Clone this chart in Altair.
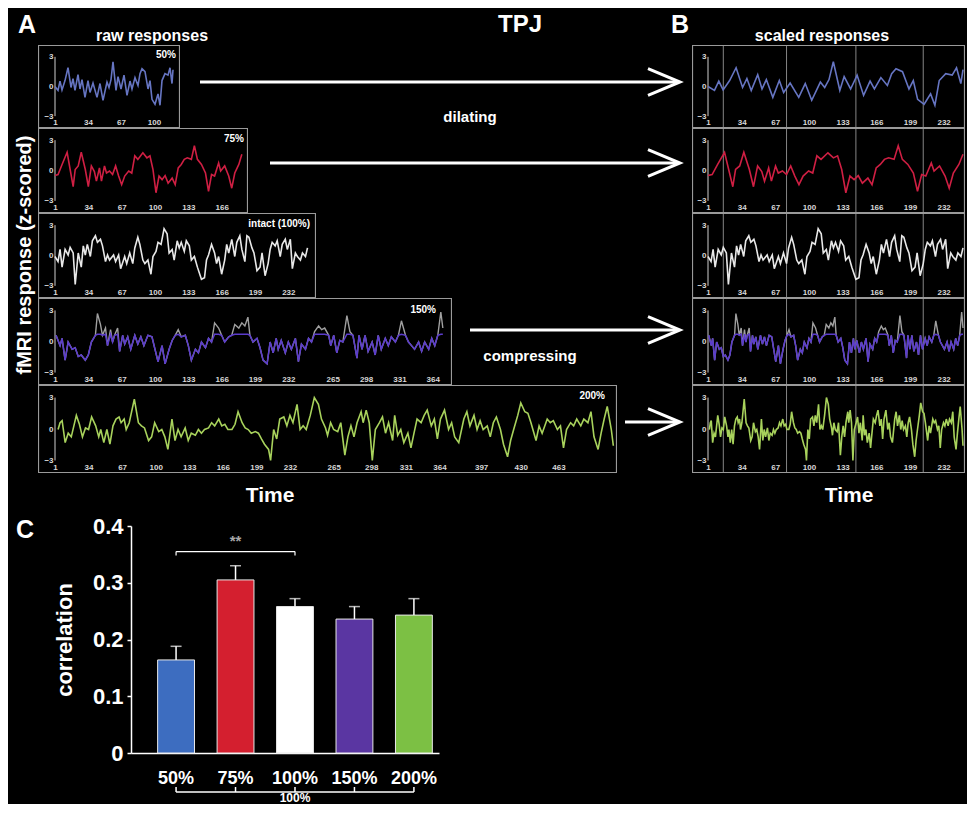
import altair as alt
import pandas as pd
import numpy as np

FONT = "Liberation Sans"
ONE = pd.DataFrame({"k": [0]})
BORDER = "#9a9a9a"

# ---------------- Panel A raw time courses (time index, z-scored value) ----------------
a50_t = [1, 4, 6, 8, 11, 14, 17, 19, 21, 24, 26, 28, 31, 34, 36, 39, 43, 46, 49, 53, 55, 57, 59, 62,
         64, 67, 70, 73, 76, 78, 81, 84, 86, 88, 91, 94, 96, 98, 101, 104, 106, 108, 111, 114, 116, 118, 119]
a50_v = [0, -0.4, 0.55, -0.35, 0.6, 1.9, -0.1, 0.8, -0.4, 1.2, -0.25, 0.7, -1.1, 0.6, -0.6, 0.35, -1.1,
         0.3, -1.4, 0.45, -0.1, 0.7, 2.5, -0.4, 1.0, -0.25, 1.15, -0.9, 0.55, -0.25, 0.9, 0.1, 1.3, 1.8,
         1.5, -0.25, 0.6, -1.3, -1.8, -0.75, -1.9, 0.6, 1.3, 1.15, 1.9, 0.3, 1.7]

a75_t = [1, 4, 8, 13, 16, 19, 21, 24, 27, 31, 34, 37, 40, 42, 45, 47, 50, 52, 55, 58, 61, 64, 67, 70,
         74, 77, 80, 83, 88, 92, 95, 98, 101, 104, 107, 110, 113, 117, 120, 123, 126, 129, 132, 136,
         139, 142, 146, 150, 153, 156, 159, 163, 165, 169, 173, 176, 179, 183, 186]
a75_v = [-0.5, -0.4, 0.6, 1.8, 0.1, -1.6, 0.1, 0.45, 1.8, 0.1, -1.6, 0.45, -0.1, -1.05, 0.25, -1.05,
         0.45, -0.25, -0.05, -0.4, 0.45, -0.55, -1.4, -0.55, -0.05, -0.25, 1.45, 1.1, 1.75, 1.25, 1.45,
         0.1, -2.2, -0.55, -0.9, -0.5, -1.25, -0.75, -1.4, 0.25, 0.6, 1.1, 1.25, 1.1, 2.45, 1.1, 0.6,
         -0.25, -2.05, -0.4, -0.55, 0.75, -0.05, 0.45, -0.55, -1.75, -0.25, 0.6, 1.6]

a100_t = [1, 4, 6, 8, 11, 14, 16, 19, 21, 24, 27, 29, 31, 33, 36, 38, 41, 43, 46, 48, 51, 53, 55, 59,
          61, 64, 66, 70, 72, 75, 78, 80, 83, 85, 88, 90, 93, 96, 98, 101, 103, 106, 109, 112, 114, 117,
          119, 122, 124, 126, 129, 131, 134, 136, 139, 142, 146, 149, 151, 153, 156, 159, 161, 163, 166,
          169, 171, 173, 176, 179, 181, 184, 186, 189, 191, 193, 196, 198, 201, 204, 206, 209, 212, 214,
          216, 219, 221, 224, 226, 229, 231, 234, 236, 239, 241, 244, 246, 249, 251]
a100_v = [-0.1, -0.6, 0.6, -1.15, 0.6, 0.05, 0.8, 0.25, -2.85, 0.25, -1.15, 0.95, 0.05, 1.1, -0.1, 1.45,
          1.95, 1.3, 1.6, 0.95, -0.6, 0.05, -0.45, 0.05, -0.6, 0.05, -1.3, -0.1, -0.8, 0.25, -0.8, 0.75,
          1.8, 1.1, -0.45, -0.8, -0.45, -1.85, -0.1, 0.4, 1.3, 1.1, 2.65, 2.15, 0.25, 0.6, -0.45, 1.45,
          0.75, 1.3, 0.4, 1.45, 0.95, -0.45, -0.1, -1.15, -2.35, -2.2, -0.45, 0.05, 1.1, 0.25, -0.8,
          -0.1, -1.85, -0.45, 1.1, 0.25, 1.6, -0.1, 1.3, 1.95, 0.6, -0.6, 1.95, 1.8, 0.75, 0.25, -1.5,
          -1.15, 0.25, -2.0, -0.8, 0.6, 1.3, 0.95, 1.45, -0.1, 1.1, 1.6, 0.6, 1.6, -1.3, 0.25, -0.1,
          -0.45, 0.25, -0.1, 0.75]

a150_t = [2, 6, 8, 11, 14, 18, 21, 24, 27, 31, 34, 37, 41, 43, 46, 48, 51, 53, 56, 58, 60, 63, 65, 68,
          70, 73, 76, 80, 83, 86, 89, 93, 97, 100, 103, 107, 110, 114, 117, 120, 123, 126, 130, 133,
          136, 140, 143, 146, 150, 153, 156, 159, 163, 166, 169, 173, 176, 179, 183, 186, 189, 192,
          194, 197, 201, 204, 207, 211, 214, 217, 220, 222, 225, 229, 232, 235, 239, 242, 245, 249,
          252, 255, 258, 262, 265, 268, 272, 274, 277, 280, 283, 286, 290, 293, 296, 300, 302, 305,
          308, 311, 315, 318, 321, 324, 328, 331, 334, 338, 341, 344, 348, 351, 354, 357, 361, 364,
          367, 371, 374, 377, 380, 383, 385]
a150_v = [0.6, -0.4, 0.3, -1.8, -0.05, -0.75, -0.6, -1.45, -1.3, -1.8, -1.3, -0.05, 0.6, 2.7, 1.65,
          0.6, 1.3, -0.4, 1.15, -0.05, 0.6, 1.3, -0.95, 0.6, -0.25, 0.45, -0.75, 0.6, -0.25, 0.45,
          -0.4, 0.6, 0.45, -0.75, -1.95, -0.4, -2.15, -0.75, 0.1, 0.6, 1.15, 0.45, 0.6, -0.4, -1.8,
          -0.75, -1.1, -0.05, -0.6, 0.3, -0.05, 1.8, 1.3, 0.6, -0.05, 0.45, 0.6, 1.65, 1.3, 1.8, 1.5,
          2.35, 0.6, -0.05, 0.3, -0.6, -1.8, -2.15, -0.05, -1.1, 0.3, -0.75, 0.1, -1.1, -0.05, -0.75,
          0.3, -1.95, -0.25, -0.75, 0.3, -0.05, 0.95, 1.5, 1.15, 1.3, 0.6, -0.4, 0.6, -1.1, 0.1, -0.05,
          2.5, 0.95, 0.6, -1.6, 0.6, -0.75, 0.6, -0.95, -0.05, -1.3, 0.6, -0.75, 0.3, -0.4, 0.45,
          -0.05, 0.6, 2.0, 0.6, -0.05, -0.4, -0.75, -0.05, -0.95, -0.05, -0.75, 0.3, -0.4, 0.6, 2.85, 1.3]

a200_t = [4, 6, 8, 11, 14, 17, 22, 25, 28, 31, 34, 37, 41, 44, 46, 49, 52, 55, 58, 61, 64, 66, 69, 71,
          74, 79, 83, 86, 89, 93, 96, 99, 103, 106, 109, 112, 116, 119, 122, 125, 129, 132, 135, 139,
          142, 145, 148, 152, 155, 158, 162, 165, 168, 171, 175, 178, 181, 185, 188, 191, 194, 198,
          201, 204, 207, 211, 213, 216, 219, 222, 226, 229, 232, 235, 239, 242, 245, 248, 252, 256,
          260, 263, 267, 269, 272, 275, 279, 282, 286, 289, 292, 295, 298, 302, 304, 307, 310, 313,
          316, 320, 323, 326, 329, 333, 335, 338, 341, 344, 348, 351, 354, 357, 361, 364, 367, 371,
          374, 377, 380, 384, 388, 391, 394, 398, 403, 406, 409, 413, 416, 419, 422, 426, 429, 432,
          435, 439, 442, 446, 449, 452, 456, 459, 463, 466, 469, 474, 477, 480, 485, 488, 491, 495,
          498, 501, 504, 508, 511, 514, 518, 521, 525, 528, 531, 535, 538, 541, 544, 548, 550]
a200_v = [-0.05, 0.6, 0.8, -1.3, -0.4, -0.75, 1.3, 0.45, -0.75, 0.1, -0.05, 1.15, 0.3, -0.75, -0.05,
          -1.3, -0.05, -1.45, 0.3, 0.95, 1.15, 0.6, 0.95, -0.05, 0.6, 2.85, 0.6, 0.3, 0.1, -1.1, -0.75,
          0.6, -0.25, -0.05, -0.75, -1.95, 0.95, -1.1, -0.05, -0.75, 0.1, -1.1, -0.4, -0.6, -0.05,
          -0.4, -0.05, 0.1, 0.6, 0.3, 0.95, 0.3, 0.45, -0.05, -0.05, 0.45, 1.65, 0.6, 0.1, -0.05,
          -0.4, -0.25, -0.4, -0.95, -1.45, -1.95, -3.0, -0.05, -0.95, 0.95, 1.15, 0.3, 1.3, 0.6, 2.35,
          -0.05, 0.3, -0.05, 1.3, 3.0, 2.35, 0.95, 0.1, -0.6, 0.6, -0.05, -0.25, 0.6, -2.5, -0.75, 0.3,
          -0.75, 0.6, 1.65, 0.6, 1.8, 0.6, -3.0, -0.05, 0.6, 1.15, -0.4, 0.6, -1.1, 1.3, -0.6, -0.05,
          -1.3, -0.4, -1.8, -0.4, 0.95, 0.6, 1.3, 1.8, 0.3, 0.95, -0.95, 0.95, 1.8, -0.05, 0.6, -0.75,
          -1.3, 0.95, 1.65, 0.3, 1.3, -0.05, 0.8, -0.05, 0.3, -0.75, 0.6, 1.15, -0.05, -1.45, -2.65,
          -1.1, -0.05, 1.3, 2.5, 1.65, 1.5, 0.6, -1.1, 0.3, -0.4, 0.95, 0.6, 0.8, -0.05, 0.3, -1.8,
          -0.05, 0.6, 0.3, 0.95, 0.3, 0.95, 0.6, 1.65, -0.75, -1.95, -0.4, 0.95, 2.15, -0.05, -1.6]

series_t = [a50_t, a75_t, a100_t, a150_t, a200_t]
series_v = [a50_v, a75_v, a100_v, a150_v, a200_v]
tags = ["50%", "75%", "intact (100%)", "150%", "200%"]
line_colors = ["#6675c2", "#cf1f43", "#e8e8e8", "#5b3ccc", "#a8d25c"]

# tick positions on the raw time axis and the labels printed there
tick_pos = [
    [1, 34, 67, 100],
    [1, 34, 67, 100, 133, 166],
    [1, 34, 67, 100, 133, 166, 199, 232],
    [1, 34, 67, 100, 133, 166, 199, 232, 276, 309, 342, 375],
    [1, 34, 67, 100, 133, 166, 199, 232, 275, 312, 346, 379, 420, 459, 496],
]
tick_txt = [
    ["1", "34", "67", "100"],
    ["1", "34", "67", "100", "133", "166"],
    ["1", "34", "67", "100", "133", "166", "199", "232"],
    ["1", "34", "67", "100", "133", "166", "199", "232", "265", "298", "331", "364"],
    ["1", "34", "67", "100", "133", "166", "199", "232", "265", "298", "331", "364", "397", "430", "463"],
]
b_tick_pos = [1, 34, 67, 100, 133, 166, 199, 232]
b_tick_txt = ["1", "34", "67", "100", "133", "166", "199", "232"]
segment_bounds = [16, 78, 146, 212]   # story-segment boundaries in panel B

# ---------------- Panel C ----------------
cats = ["50%", "75%", "100%", "150%", "200%"]
corr = [0.164, 0.305, 0.258, 0.236, 0.243]
corr_err = [0.024, 0.025, 0.014, 0.022, 0.029]
bar_colors = ["#3d6dc0", "#d41f2f", "#ffffff", "#5a36a2", "#7cc044"]

# ---------------- layout constants ----------------
A_widths = [142, 210, 278, 414, 579]
A_ppu = [1.0, 1.01, 1.01, 1.01, 1.017]
row_h = [83, 85, 85, 87, 88]
B_width = 273
tag_dx = [4, 4, 6, 16, 12]
tag_y = [10, 11, 11, 12, 11]
arrow_y = [37, 35, None, 32, 37]
arrow_x0 = [20, 22, None, 18, 8]


def label_expr(pos, txt):
    e = "datum.label"
    for p, s in reversed(list(zip(pos, txt))):
        e = f"datum.value == {p} ? '{s}' : ({e})"
    return e


def frame(width, height, bw=1.1):
    """Panel border drawn as four filled strips inside the panel (no stroke overhang)."""
    sides = [(0, width, 0, bw), (0, width, height - bw, height),
             (0, bw, 0, height), (width - bw, width, 0, height)]
    return [alt.Chart(ONE).mark_rect(color=BORDER).encode(
        x=alt.value(a), x2=alt.value(b), y=alt.value(c), y2=alt.value(d)) for a, b, c, d in sides]


def ts_panel(t, v, color, width, height, ppu, lpad, tpos, ttxt, tag=None, tdx=4, ty=10,
             clamp=False, seg=None):
    x0 = 1 - lpad / ppu
    x1 = x0 + width / ppu
    xs = alt.Scale(domain=[x0, x1], nice=False, zero=False)
    ys = alt.Scale(domain=[-4.2, 4.2], nice=False, zero=False)
    xax = alt.Axis(title=None, values=tpos, labelExpr=label_expr(tpos, ttxt), domain=False,
                   ticks=False, grid=False, offset=-10, labelPadding=0, labelFont=FONT,
                   labelFontSize=8, labelFontWeight="bold", labelColor="#d8d8d8",
                   labelOverlap=False, labelFlush=False, labelBound=False)
    yax = alt.Axis(title=None, values=[-3, 0, 3], domain=False, ticks=False, grid=False,
                   offset=-lpad, labelPadding=2, labelFont=FONT, labelFontSize=8,
                   labelFontWeight="bold", labelColor="#d8d8d8")
    X = alt.X("t:Q", scale=xs, axis=xax)
    Y = alt.Y("v:Q", scale=ys, axis=yax)
    df = pd.DataFrame({"t": t, "v": v})
    layers = []
    if seg is not None:
        layers.append(alt.Chart(pd.DataFrame({"t": seg})).mark_rule(color="#858585", strokeWidth=1)
                      .encode(x=X, y=alt.value(1), y2=alt.value(height - 1)))
    layers.append(alt.Chart(pd.DataFrame({"t": [1], "v": [-3], "v2": [3]}))
                  .mark_rule(color="#cfcfcf", strokeWidth=1).encode(x=X, y=Y, y2="v2:Q"))
    if clamp:
        layers.append(alt.Chart(df).mark_line(color="#a0a0a0", strokeWidth=1.4).encode(x=X, y=Y))
        layers.append(alt.Chart(df).transform_calculate(vc="min(datum.v, 0.7)")
                      .mark_line(color=color, strokeWidth=1.5)
                      .encode(x=X, y=alt.Y("vc:Q", scale=ys, axis=yax)))
    else:
        layers.append(alt.Chart(df).mark_line(color=color, strokeWidth=1.6).encode(x=X, y=Y))
    if tag:
        layers.append(alt.Chart(ONE).mark_text(text=tag, font=FONT, fontSize=10, fontWeight="bold",
                                               color="white", align="right", baseline="middle")
                      .encode(x=alt.value(width - tdx), y=alt.value(ty)))
    layers += frame(width, height)
    return alt.layer(*layers).properties(width=width, height=height)


def txt(text, x, y, size, color="white", angle=0, align="center", baseline="middle"):
    return alt.Chart(ONE).mark_text(text=text, font=FONT, fontSize=size, fontWeight="bold",
                                    color=color, angle=angle, align=align, baseline=baseline
                                    ).encode(x=alt.value(x), y=alt.value(y))


def spacer(i, width, height):
    layers = []
    if arrow_y[i] is not None:
        end = width - 12
        layers.append(alt.Chart(ONE).mark_rule(color="white", strokeWidth=3)
                      .encode(x=alt.value(arrow_x0[i]), x2=alt.value(end - 2), y=alt.value(arrow_y[i])))
        layers.append(alt.Chart(ONE).mark_point(shape="M-1,-0.42L0,0L-1,0.42", size=4096, filled=False,
                                                strokeWidth=3, color="white", opacity=1)
                      .encode(x=alt.value(end), y=alt.value(arrow_y[i])))
    if i == 0:
        layers.append(txt("dilating", 290, 72, 15))
    if i == 3:
        layers.append(txt("compressing", 78, 58, 15))
    if not layers:
        layers.append(alt.Chart(ONE).mark_rule(color="black", opacity=0).encode(
            x=alt.value(10), x2=alt.value(20), y=alt.value(40)))
    return alt.layer(*layers).properties(width=width, height=height)


rows = []
for i in range(5):
    t = series_t[i]
    v = series_v[i]
    A = ts_panel(t, v, line_colors[i], A_widths[i], row_h[i], A_ppu[i], 17,
                 tick_pos[i], tick_txt[i], tags[i], tag_dx[i], tag_y[i], clamp=(i == 3))
    tb = list(1 + (np.array(t, dtype=float) - 1) * 250.0 / (t[-1] - 1))
    B = ts_panel(tb, v, line_colors[i], B_width, row_h[i], 1.02, 16,
                 b_tick_pos, b_tick_txt, clamp=(i == 3), seg=segment_bounds)
    S = spacer(i, 654 - A_widths[i], row_h[i])
    rows.append(alt.hconcat(A, S, B, spacing=0))

rows_block = alt.vconcat(*rows, spacing=0)
gutter = alt.layer(txt("fMRI response (z-scored)", 17, 210, 20, angle=270)).properties(
    width=30, height=sum(row_h))
middle = alt.hconcat(gutter, rows_block, spacing=0)

header = alt.layer(
    txt("A", 19, 17, 25),
    txt("raw responses", 144, 28, 16),
    txt("TPJ", 512, 17, 24),
    txt("B", 672, 17, 25),
    txt("scaled responses", 814, 28, 16),
).properties(width=957, height=37)

time_row = alt.layer(
    txt("Time", 262, 23, 21),
    txt("Time", 841, 23, 21),
).properties(width=957, height=42)

# ---------------- panel C bar chart ----------------
dfc = pd.DataFrame({"cat": cats, "corr": corr, "err": corr_err})
xs_c = alt.Scale(domain=cats, paddingInner=0.38, paddingOuter=0.28, align=0.8)
ys_c = alt.Scale(domain=[0, 0.4], nice=False)
xax_c = alt.Axis(title=None, labelFont=FONT, labelFontSize=18, labelFontWeight="bold",
                 labelColor="white", labelPadding=16, ticks=False, domainColor="white",
                 domainWidth=1.5, labelAngle=0, grid=False)
yax_c = alt.Axis(title="correlation", values=[0, 0.1, 0.2, 0.3, 0.4],
                 labelExpr="datum.value == 0 ? '0' : format(datum.value, '.1f')",
                 labelFont=FONT, labelFontSize=22, labelFontWeight="bold", labelColor="white",
                 labelPadding=4, tickColor="white", tickSize=4, tickWidth=1.5, domainColor="white",
                 domainWidth=1.5, grid=False, titleFont=FONT, titleFontSize=22,
                 titleFontWeight="bold", titleColor="white", titlePadding=16)
XC = alt.X("cat:N", scale=xs_c, axis=xax_c)
YC = lambda f: alt.Y(f, type="quantitative", scale=ys_c, axis=yax_c)

bars = alt.Chart(dfc).mark_bar(stroke="#e8e8e8", strokeWidth=1).encode(
    x=XC, y=YC("corr"),
    color=alt.Color("cat:N", scale=alt.Scale(domain=cats, range=bar_colors), legend=None))
errs = alt.Chart(dfc).transform_calculate(hi="datum.corr + datum.err").mark_rule(
    color="white", strokeWidth=1.5).encode(x=XC, y=YC("corr"), y2="hi:Q")
caps = alt.Chart(dfc).transform_calculate(hi="datum.corr + datum.err").mark_tick(
    color="white", thickness=1.5, size=11).encode(x=XC, y=YC("hi"))

sig = pd.DataFrame({"cat": ["50%"], "cat2": ["100%"], "y": [0.355]})
sig_line = alt.Chart(sig).mark_rule(color="white", strokeWidth=1.2).encode(
    x=XC, x2="cat2:N", y=YC("y"))
sig_ends = alt.Chart(pd.DataFrame({"cat": ["50%", "100%"], "y": [0.348, 0.348], "y2": [0.355, 0.355]})
                     ).mark_rule(color="white", strokeWidth=1.2).encode(x=XC, y=YC("y"), y2="y2:Q")
stars = alt.Chart(pd.DataFrame({"cat": ["75%"], "y": [0.373]})).mark_text(
    text="**", font=FONT, fontSize=15, fontWeight="bold", color="#a8a8a8").encode(x=XC, y=YC("y"))

brk = alt.Chart(pd.DataFrame({"cat": ["50%"], "cat2": ["200%"]})).mark_rule(
    color="white", strokeWidth=1.5).encode(x=XC, x2="cat2:N", y=alt.value(266))
brk_ticks = alt.Chart(pd.DataFrame({"cat": cats})).mark_rule(color="white", strokeWidth=1.5).encode(
    x=XC, y=alt.value(261), y2=alt.value(266))
brk_txt = alt.Chart(pd.DataFrame({"cat": ["100%"]})).mark_text(
    text="100%", font=FONT, fontSize=12, fontWeight="bold", color="white", baseline="top").encode(
    x=XC, y=alt.value(267))

c_chart = alt.layer(bars, errs, caps, sig_line, sig_ends, stars, brk, brk_ticks, brk_txt).properties(
    width=308, height=227)
c_left = alt.layer(txt("C", 17, 4, 25)).properties(width=45, height=227)
c_row = alt.hconcat(c_left, c_chart, spacing=0)

chart = alt.vconcat(header, middle, time_row, c_row, spacing=0).properties(
    background="black", padding=0
).configure_view(stroke="transparent", strokeWidth=0).configure_concat(spacing=0)

chart.save("out.html", embed_options={"renderer": "svg", "actions": False})
